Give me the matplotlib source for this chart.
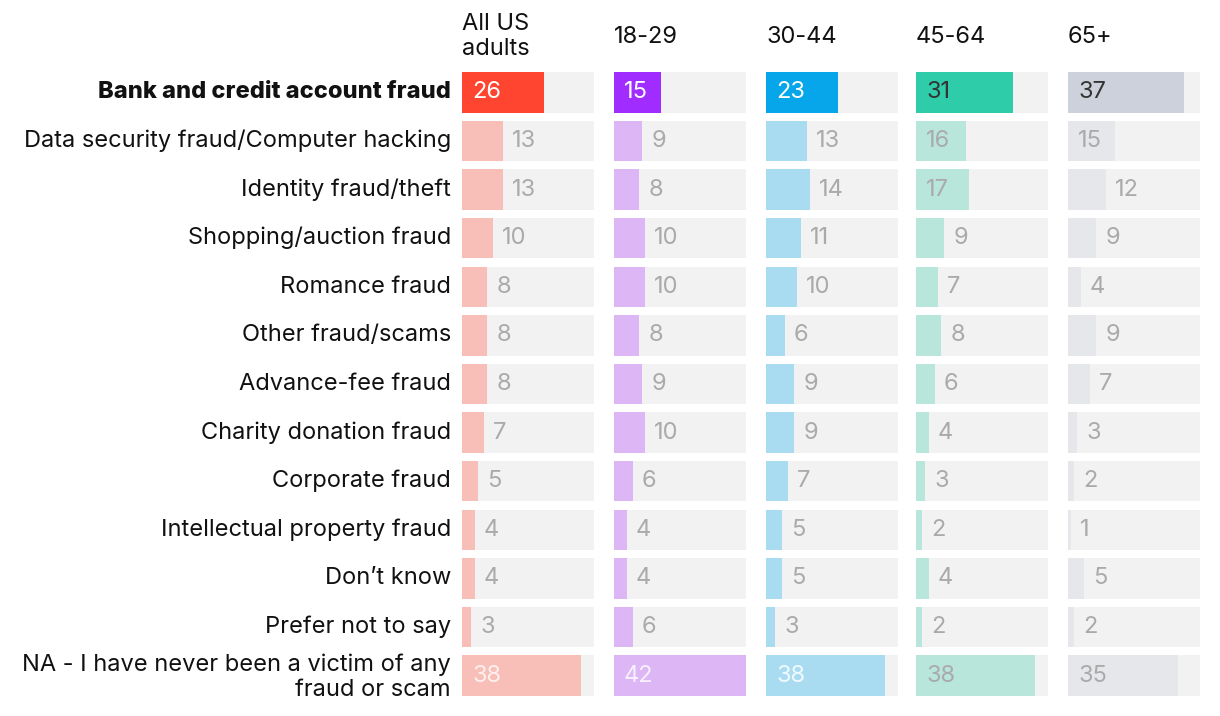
import matplotlib
matplotlib.use("Agg")
import matplotlib.pyplot as plt

categories = [
    "Bank and credit account fraud",
    "Data security fraud/Computer hacking",
    "Identity fraud/theft",
    "Shopping/auction fraud",
    "Romance fraud",
    "Other fraud/scams",
    "Advance-fee fraud",
    "Charity donation fraud",
    "Corporate fraud",
    "Intellectual property fraud",
    "Don\u2019t know",
    "Prefer not to say",
    "NA - I have never been a victim of any\nfraud or scam",
]
groups = ["All US\nadults", "18-29", "30-44", "45-64", "65+"]
all_us = [26, 13, 13, 10, 8, 8, 8, 7, 5, 4, 4, 3, 38]
age_18_29 = [15, 9, 8, 10, 10, 8, 9, 10, 6, 4, 4, 6, 42]
age_30_44 = [23, 13, 14, 11, 10, 6, 9, 9, 7, 5, 5, 3, 38]
age_45_64 = [31, 16, 17, 9, 7, 8, 6, 4, 3, 2, 4, 2, 38]
age_65_plus = [37, 15, 12, 9, 4, 9, 7, 3, 2, 1, 5, 2, 35]
series = [all_us, age_18_29, age_30_44, age_45_64, age_65_plus]

strong = ["#ff4530", "#a02cff", "#07a6ea", "#2ecca9", "#cdd1dc"]
faded = ["#f7bfb7", "#dcb6f5", "#aadcf1", "#b8e6db", "#e6e7eb"]
strong_txt = ["white", "white", "white", "#333333", "#333333"]
faded_txt = ["#fdf0ee", "#f8f0fe", "#f0f9fd", "#aaaaaa", "#aaaaaa"]
bg = "#f2f2f2"
out_txt = "#aaaaaa"

plt.rcParams['font.family'] = ['Inter', 'DejaVu Sans']

W, H = 1220, 716
fig = plt.figure(figsize=(W / 100, H / 100), dpi=100)
lefts = [462, 614, 766, 916, 1068]
pw = 132
top, bot = 68, 700
vmax = 42
n = len(categories)
ys = list(range(n))
fs = 17

for k, (vals, left) in enumerate(zip(series, lefts)):
    ax = fig.add_axes([left / W, 1 - bot / H, pw / W, (bot - top) / H])
    ax.set_xlim(0, vmax)
    ax.set_ylim(n - 0.5, -0.5)
    ax.axis("off")
    ax.barh(ys, [vmax] * n, height=40 / 48, color=bg, left=0)
    cols = [strong[k] if i == 0 else faded[k] for i in ys]
    ax.barh(ys, vals, height=40 / 48, color=cols)
    for i, v in enumerate(vals):
        if v >= 15:
            x = 10 * vmax / pw
            c = strong_txt[k] if i == 0 else faded_txt[k]
        else:
            x = v + 9 * vmax / pw
            c = out_txt
        ax.text(x, i, str(v), va="center", ha="left", fontsize=fs, color=c)
    ax.text(0, -0.5 - 31 / 48, groups[k], transform=ax.transData,
            va="center", ha="left", fontsize=fs, color="#111111", linespacing=1.15)
    if k == 0:
        for i, cat in enumerate(categories):
            ax.text(-11 * vmax / pw, i + (1.5 / 48 if i == n - 1 else 0), cat,
                    ha="right", va="center", fontsize=fs,
                    color="#111111", fontweight="heavy" if i == 0 else "normal",
                    linespacing=1.15)

fig.savefig("out.png", dpi=100, facecolor="white")
